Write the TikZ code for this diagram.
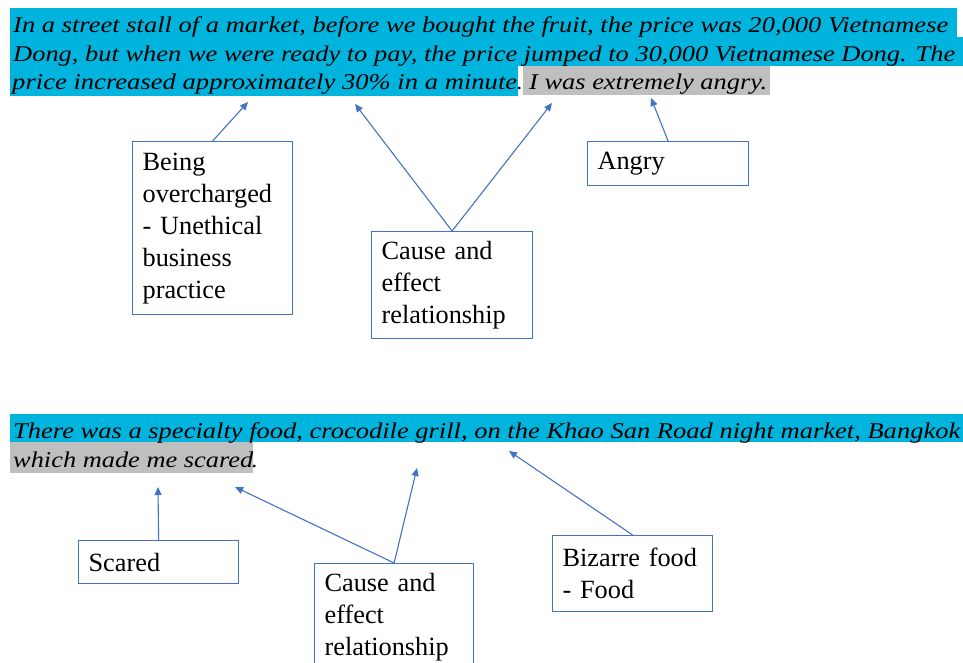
\documentclass[tikz,border=0pt]{standalone}
\usepackage{fontspec}
\setmainfont{Liberation Serif}
\usepackage{graphicx}
\usetikzlibrary{arrows.meta}
\definecolor{hlcyan}{RGB}{0,180,222}
\definecolor{hlgray}{RGB}{191,191,191}
\definecolor{boxblue}{RGB}{68,114,196}
\begin{document}
\begin{tikzpicture}[x=1pt,y=-1pt,
  para/.style={anchor=base west, inner sep=0pt, font=\fontsize{22.5}{27}\selectfont\itshape},
  boxnode/.style={draw=boxblue, line width=1.2pt, anchor=north west, inner xsep=10pt, inner ysep=0pt,
    align=left, font=\fontsize{26.3}{32}\selectfont},
  conn/.style={draw=boxblue, line width=1.1pt, -{Triangle[length=8pt,width=7pt]}}]
\clip (0,0) rectangle (963,663);
\fill[white] (0,0) rectangle (963,663);

% ---- top paragraph highlights
\fill[hlcyan] (10,8) rectangle (957,37);
\fill[hlcyan] (10,37) rectangle (963,66);
\fill[hlcyan] (10,66) rectangle (518,96);
\fill[hlgray] (523,66) rectangle (770,95);

\node[para] (t1) at (13,33) {\resizebox{935pt}{\height}{In a street stall of a market, before we bought the fruit, the price was 20,000 Vietnamese}};
\node[para] (t2) at (13,62) {\resizebox{942pt}{\height}{Dong, but when we were ready to pay, the price jumped to 30,000 Vietnamese Dong. The}};
\node[para] (t3) at (12,90) {\resizebox{505pt}{\height}{price increased approximately 30\% in a minute}};
\node[para] (t3b) at (517,90) {.};
\node[para] (t3c) at (529,90) {\resizebox{238pt}{\height}{I was extremely angry.}};

% ---- bottom paragraph highlights
\fill[hlcyan] (10,414) rectangle (963,442);
\fill[hlgray] (10,442) rectangle (253,473);
\node[para] (b1) at (13,438) {\resizebox{947pt}{\height}{There was a specialty food, crocodile grill, on the Khao San Road night market, Bangkok}};
\node[para] (b2) at (13,467) {\resizebox{240pt}{\height}{which made me scared}};
\node[para] (b2b) at (252,467) {.};

% ---- top boxes
\node[boxnode, minimum width=160pt, minimum height=173pt, text width=140pt] (boxA) at (132,141)
  {Being\\overcharged\\- Unethical\\business\\practice};
\node[boxnode, minimum width=161pt, minimum height=107pt, text width=141pt] (boxB) at (371,231)
  {Cause and\\effect\\relationship};
\node[boxnode, minimum width=161pt, minimum height=44pt, text width=141pt] (angry) at (587,141)
  {Angry};

% ---- bottom boxes
\node[boxnode, minimum width=160pt, minimum height=43pt, text width=140pt] (scared) at (78,540)
  {Scared};
\node[boxnode, minimum width=159pt, minimum height=107pt, text width=139pt] (boxC) at (314,563)
  {Cause and\\effect\\relationship};
\node[boxnode, minimum width=160pt, minimum height=76pt, text width=140pt] (bizarre) at (552,535)
  {Bizarre food\\- Food};

% ---- arrow targets
\coordinate (pA) at (248,102);
\coordinate (pB1) at (355,104);
\coordinate (pB2) at (552,103);
\coordinate (pAng) at (651,98);
\coordinate (pS) at (158,487);
\coordinate (pC1) at (235,487);
\coordinate (pC2) at (417,468);
\coordinate (pBz) at (509,451);

\draw[conn] (boxA.north) -- (pA);
\draw[conn] (boxB.north) -- (pB1);
\draw[conn] (boxB.north) -- (pB2);
\draw[conn] (angry.north) -- (pAng);
\draw[conn] (scared.north) -- (pS);
\draw[conn] (boxC.north) -- (pC1);
\draw[conn] (boxC.north) -- (pC2);
\draw[conn] (bizarre.north) -- (pBz);
\end{tikzpicture}
\end{document}
